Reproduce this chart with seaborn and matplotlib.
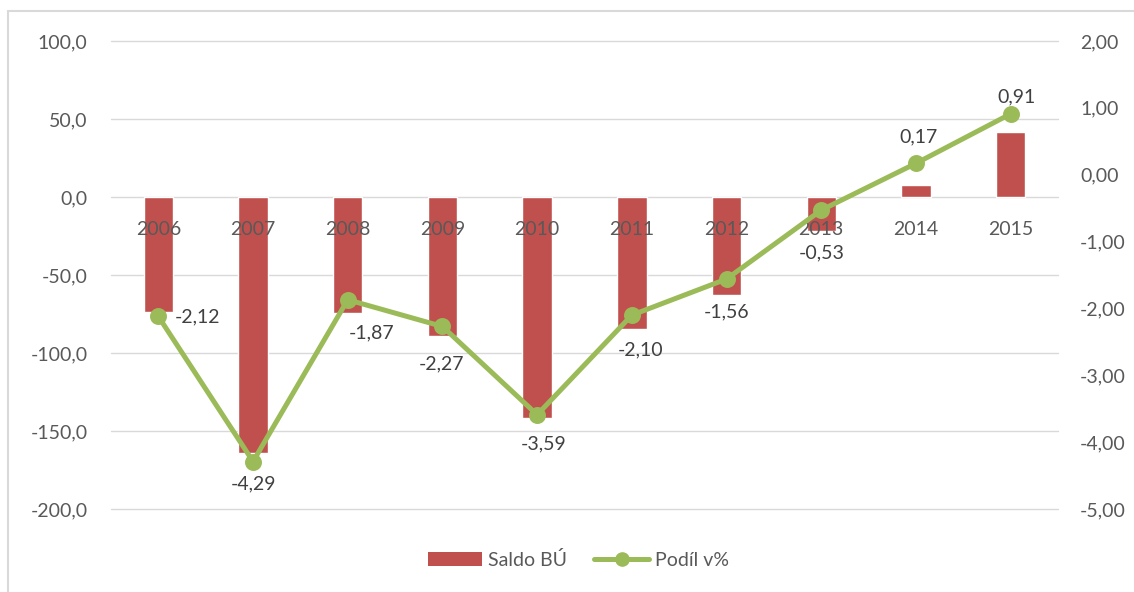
import numpy as np
import pandas as pd
import matplotlib
matplotlib.use("Agg")
import matplotlib.pyplot as plt
from matplotlib.patches import Patch
from matplotlib.lines import Line2D
from matplotlib.ticker import FuncFormatter, FixedLocator
import seaborn as sns

# ---- data ----
years = ["2006", "2007", "2008", "2009", "2010", "2011", "2012", "2013", "2014", "2015"]
saldo_bu = [-74.0, -164.2, -74.6, -88.9, -141.8, -84.6, -62.9, -21.7, 7.7, 41.4]
podil_pct = [-2.12, -4.29, -1.87, -2.27, -3.59, -2.10, -1.56, -0.53, 0.17, 0.91]
left_ticks = [-200, -150, -100, -50, 0, 50, 100]
right_ticks = [-5, -4, -3, -2, -1, 0, 1, 2]
series_names = ["Saldo BÚ", "Podíl v%"]

# ---- styling ----
label_offsets = [(28, 0), (0, -16), (17, -24), (-1, -27), (5, -21),
                 (6, -25), (0, -24), (0, -31), (2, 19), (4, 12)]
BAR_COLOR = "#C0504D"
LINE_COLOR = "#9BBB59"
GRID_COLOR = "#D9D9D9"
TEXT_COLOR = "#595959"
LABEL_COLOR = "#404040"
FS = 14

sns.set_theme(style="white")
plt.rcParams["font.family"] = ["Lato", "DejaVu Sans"]

df = pd.DataFrame({"year": years, "saldo": saldo_bu, "podil": podil_pct})

W, H = 1134, 592
fig = plt.figure(figsize=(W / 100, H / 100), dpi=100)
ax = fig.add_axes([111 / W, 1 - 509 / H, (1058 - 111) / W, (509 - 41) / H])

sns.barplot(data=df, x="year", y="saldo", color=BAR_COLOR, width=0.31,
            saturation=1, ax=ax, zorder=2)
ax.set_ylim(-200, 100)
ax.yaxis.set_major_locator(FixedLocator(left_ticks))
ax.yaxis.set_major_formatter(FuncFormatter(lambda v, p: f"{v:.1f}".replace(".", ",")))
ax.grid(False)
for t in left_ticks:
    ax.axhline(t, color=GRID_COLOR, linewidth=1.0, zorder=0, clip_on=False)
ax.set_axisbelow(False)
for s in ax.spines.values():
    s.set_visible(False)
ax.spines["bottom"].set_position(("data", 0))
ax.tick_params(axis="x", length=0, pad=17, labelsize=FS, labelcolor=TEXT_COLOR)
ax.tick_params(axis="y", length=0, pad=17, labelsize=FS, labelcolor=TEXT_COLOR)
ax.set_xlabel("")
ax.set_ylabel("")

ax2 = ax.twinx()
sns.pointplot(data=df, x="year", y="podil", color=LINE_COLOR, markers="o",
              linewidth=3.6, markersize=9.5, ax=ax2, errorbar=None)
ax2.set_ylim(-5, 2)
ax2.yaxis.set_major_locator(FixedLocator(right_ticks))
ax2.yaxis.set_major_formatter(FuncFormatter(lambda v, p: f"{v:.2f}".replace(".", ",")))
ax2.tick_params(axis="y", length=0, pad=16, labelsize=FS, labelcolor=TEXT_COLOR)
ax2.grid(False)
for s in ax2.spines.values():
    s.set_visible(False)
ax2.set_xlabel("")
ax2.set_ylabel("")
ax2.set_xlim(ax.get_xlim())

for i, (v, off) in enumerate(zip(podil_pct, label_offsets)):
    ax2.annotate(f"{v:.2f}".replace(".", ","), xy=(i, v), xytext=off,
                 textcoords="offset points", ha="center", va="center",
                 fontsize=FS, color=LABEL_COLOR)

handles = [Patch(facecolor=BAR_COLOR, edgecolor="none", label=series_names[0]),
           Line2D([0], [0], color=LINE_COLOR, linewidth=3.6, marker="o",
                  markersize=9.5, label=series_names[1])]
leg = fig.legend(handles=handles, loc="center", bbox_to_anchor=(0.51, 1 - 560 / H),
                 ncol=2, frameon=False, fontsize=FS, handlelength=2.8,
                 handleheight=0.7, handletextpad=0.3, columnspacing=1.4)
for t in leg.get_texts():
    t.set_color(TEXT_COLOR)

# chart border (light gray frame)
fig.add_artist(Line2D([8 / W, 8 / W], [0, 1 - 11 / H], color=GRID_COLOR, linewidth=1.5))
fig.add_artist(Line2D([8 / W, 1], [1 - 11 / H, 1 - 11 / H], color=GRID_COLOR, linewidth=1.5))

fig.savefig("out.png", dpi=100, facecolor="white")
